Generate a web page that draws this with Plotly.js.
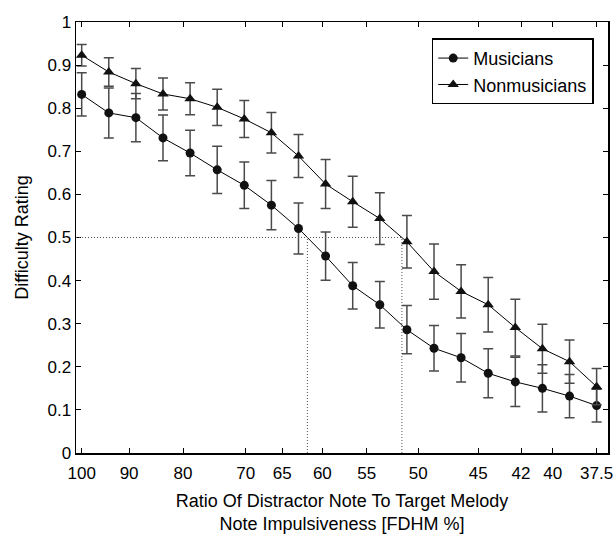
<!DOCTYPE html>
<html>
<head>
<meta charset="utf-8">
<script src="https://cdn.plot.ly/plotly-3.0.1.min.js"></script>
<style>html,body{margin:0;padding:0;background:#fff;}#chart{width:616px;height:534px;}</style>
</head>
<body>
<div id="chart"></div>
<script>
// Stimulus step index (20 equally spaced conditions)
const steps = [0,1,2,3,4,5,6,7,8,9,10,11,12,13,14,15,16,17,18,19];
// Tick labels (ratio, FDHM %) and where they fall on the step scale
const tickLabels = ['100','90','80','70','65','60','55','50','45','42','40','37.5'];
const tickSteps  = [0, 1.75, 3.74, 6.05, 7.40, 8.88, 10.52, 12.42, 14.63, 16.21, 17.38, 19];

const musicians    = [0.832,0.789,0.778,0.731,0.696,0.657,0.621,0.575,0.521,0.457,0.388,0.344,0.286,0.243,0.221,0.185,0.165,0.150,0.132,0.110];
const musiciansErr = [0.050,0.058,0.056,0.053,0.053,0.055,0.054,0.057,0.059,0.056,0.054,0.054,0.056,0.053,0.056,0.057,0.057,0.055,0.050,0.038];
const nonmusicians    = [0.923,0.884,0.857,0.833,0.822,0.802,0.775,0.743,0.689,0.624,0.583,0.544,0.490,0.421,0.375,0.344,0.291,0.242,0.212,0.154];
const nonmusiciansErr = [0.025,0.033,0.035,0.037,0.037,0.042,0.043,0.047,0.050,0.057,0.059,0.060,0.061,0.064,0.062,0.063,0.066,0.057,0.050,0.042];

const threshold = 0.5;

function crossing(xs, ys, level){
  for(let i=0;i<ys.length-1;i++){
    if((ys[i]-level)*(ys[i+1]-level) <= 0){
      return xs[i] + (ys[i]-level)/(ys[i]-ys[i+1])*(xs[i+1]-xs[i]);
    }
  }
  return null;
}
const xM = crossing(steps, musicians, threshold);
const xN = crossing(steps, nonmusicians, threshold);

const xRange = [-0.21, 19.42];
const font = 'Liberation Sans, Arial, Helvetica, sans-serif';
const errStyle = {type:'data', visible:true, color:'#4a4a4a', thickness:1.5, width:5};

const traces = [
  {x:steps, y:musicians, type:'scatter', mode:'lines+markers', name:'Musicians', showlegend:false,
   line:{color:'#000', width:1}, marker:{symbol:'circle', size:9, color:'#111'},
   error_y:Object.assign({array:musiciansErr}, errStyle)},
  {x:steps, y:nonmusicians, type:'scatter', mode:'lines+markers', name:'Nonmusicians', showlegend:false,
   line:{color:'#000', width:1}, marker:{symbol:'triangle-up', size:10, color:'#111'},
   error_y:Object.assign({array:nonmusiciansErr}, errStyle)},
  // legend entries (no error bars in legend)
  {x:[null], y:[null], type:'scatter', mode:'lines+markers', name:'Musicians',
   line:{color:'#000', width:1}, marker:{symbol:'circle', size:9, color:'#111'}},
  {x:[null], y:[null], type:'scatter', mode:'lines+markers', name:'Nonmusicians',
   line:{color:'#000', width:1}, marker:{symbol:'triangle-up', size:10, color:'#111'}}
];

const dotLine = {color:'#555', width:1, dash:'1px,2px'};
const layout = {
  width:616, height:534,
  margin:{l:76, r:8, t:22, b:81, pad:0},
  paper_bgcolor:'#fff', plot_bgcolor:'#fff',
  font:{family:font, size:17, color:'#000'},
  showlegend:true,
  xaxis:{
    range:xRange, tickmode:'array', tickvals:tickSteps, ticktext:tickLabels,
    ticks:'inside', ticklen:5, tickwidth:1, tickcolor:'#000', mirror:'ticks',
    showline:true, linewidth:1.5, linecolor:'#000', showgrid:false, zeroline:false,
    tickfont:{size:17}, ticklabelstandoff:4,
    title:{text:'Ratio Of Distractor Note To Target Melody<br>Note Impulsiveness [FDHM %]', font:{size:18}, standoff:20}
  },
  yaxis:{
    range:[0,1], tickmode:'linear', tick0:0, dtick:0.1,
    ticks:'inside', ticklen:5, tickwidth:1, tickcolor:'#000', mirror:'ticks',
    showline:true, linewidth:1.5, linecolor:'#000', showgrid:false, zeroline:false,
    tickfont:{size:17},
    title:{text:'Difficulty Rating', font:{size:18}, standoff:14}
  },
  legend:{x:0.6686, y:0.962, xanchor:'left', yanchor:'top', bgcolor:'#fff',
    bordercolor:'#000', borderwidth:1.5, font:{size:18}, tracegroupgap:0},
  shapes:[
    {type:'line', xref:'paper', yref:'y', x0:0, x1:(xN-xRange[0])/(xRange[1]-xRange[0]), y0:threshold, y1:threshold, line:dotLine},
    {type:'line', xref:'x', yref:'y', x0:xM, x1:xM, y0:0, y1:threshold, line:dotLine},
    {type:'line', xref:'x', yref:'y', x0:xN, x1:xN, y0:0, y1:threshold, line:dotLine}
  ]
};

Plotly.newPlot('chart', traces, layout, {displayModeBar:false, staticPlot:true});
</script>
</body>
</html>
